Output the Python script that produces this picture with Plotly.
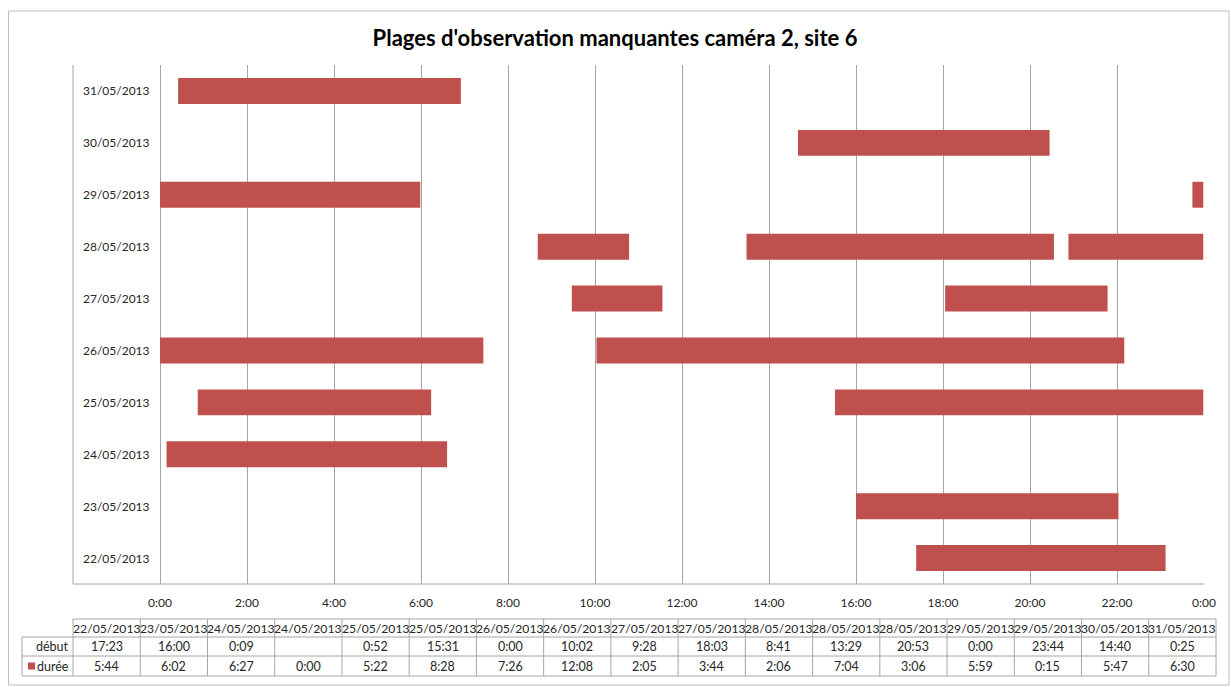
import plotly.graph_objects as go

# Données : une colonne du tableau = une plage manquante
dates = ["22/05/2013", "23/05/2013", "24/05/2013", "24/05/2013", "25/05/2013",
         "25/05/2013", "26/05/2013", "26/05/2013", "27/05/2013", "27/05/2013",
         "28/05/2013", "28/05/2013", "28/05/2013", "29/05/2013", "29/05/2013",
         "30/05/2013", "31/05/2013"]
debut = ["17:23", "16:00", "0:09", "", "0:52", "15:31", "0:00", "10:02", "9:28",
         "18:03", "8:41", "13:29", "20:53", "0:00", "23:44", "14:40", "0:25"]
duree = ["5:44", "6:02", "6:27", "0:00", "5:22", "8:28", "7:26", "12:08", "2:05",
         "3:44", "2:06", "7:04", "3:06", "5:59", "0:15", "5:47", "6:30"]
jours = ["22/05/2013", "23/05/2013", "24/05/2013", "25/05/2013", "26/05/2013",
         "27/05/2013", "28/05/2013", "29/05/2013", "30/05/2013", "31/05/2013"]
heures_ticks = list(range(-2, 25, 2))
heures_labels = [""] + [f"{h % 24}:00" for h in range(0, 25, 2)]

W, H = 1231, 687
ROUGE = "#C0504D"
GRIS = "#A6A6A6"
TEXTE = "#262626"
POLICE = "Lato"


def en_heures(s):
    if not s:
        return None
    h, m = s.split(":")
    return int(h) + int(m) / 60


def px(x):
    return x / W


def py(y):
    return 1 - y / H


# Barres (on ignore la plage vide)
ys, bases, longueurs = [], [], []
for d, deb, dur in zip(dates, debut, duree):
    b = en_heures(deb)
    if b is None:
        continue
    ys.append(d)
    bases.append(b)
    longueurs.append(en_heures(dur))

fig = go.Figure(go.Bar(
    y=ys, x=longueurs, base=bases, orientation="h",
    marker=dict(color=ROUGE, line=dict(width=0)),
    width=0.5, showlegend=False, hoverinfo="skip",
))

x_gauche, x_droite = 73, 1204
y_haut, y_bas = 65, 584

fig.update_layout(
    width=W, height=H,
    margin=dict(l=0, r=0, t=0, b=0, pad=0, autoexpand=False),
    showlegend=False,
    paper_bgcolor="white", plot_bgcolor="white",
    font=dict(family=POLICE, color=TEXTE, size=12),
    title=dict(text="<b>Plages d'observation manquantes caméra 2, site 6</b>",
               x=px(615), xanchor="center", y=py(38), yanchor="middle",
               font=dict(size=22, color="#000000", family=POLICE)),
    xaxis=dict(domain=[px(x_gauche), px(x_droite)], range=[-2, 24],
               tickvals=heures_ticks, ticktext=heures_labels,
               showgrid=True, gridcolor=GRIS, gridwidth=1,
               zeroline=False, showline=False, ticks="", automargin=False,
               ticklabelstandoff=10, tickfont=dict(size=12, color=TEXTE)),
    yaxis=dict(domain=[py(y_bas), py(y_haut)], range=[-0.5, 9.5],
               type="category", categoryorder="array", categoryarray=jours,
               showticklabels=False, showgrid=False, zeroline=False,
               automargin=False),
)

shapes = []
ann = []

# Cadre extérieur
shapes.append(dict(type="rect", xref="paper", yref="paper",
                   x0=px(8.5), x1=px(1229), y0=py(685), y1=py(11),
                   line=dict(color="#BFBFBF", width=1)))
# Bords de la zone de tracé
for x0, y0, x1, y1 in [(x_gauche, y_haut, x_gauche, y_bas),
                       (x_gauche, y_bas, x_droite, y_bas)]:
    shapes.append(dict(type="line", xref="paper", yref="paper",
                       x0=px(x0), x1=px(x1), y0=py(y0), y1=py(y1),
                       line=dict(color=GRIS, width=1)))

# Étiquettes des jours dans la zone de tracé
for j in jours:
    ann.append(dict(x=-1, y=j, xref="x", yref="y", text=j, showarrow=False,
                    font=dict(size=12, color=TEXTE)))

# Tableau de données
n = len(dates)
t_gauche, t_droite = 73, 1216
col = (t_droite - t_gauche) / n
lignes = [619, 637, 656, 676]
lab_gauche = 22
TCOL = "#A6A6A6"


def ligne(x0, y0, x1, y1):
    shapes.append(dict(type="line", xref="paper", yref="paper",
                       x0=px(x0), x1=px(x1), y0=py(y0), y1=py(y1),
                       line=dict(color=TCOL, width=1)))


ligne(t_gauche, lignes[0], t_droite, lignes[0])
for yl in lignes[1:]:
    ligne(lab_gauche, yl, t_droite, yl)
ligne(lab_gauche, lignes[1], lab_gauche, lignes[3])
for i in range(n + 1):
    xc = t_gauche + i * col
    ligne(xc, lignes[0], xc, lignes[3])

for i in range(n):
    xc = t_gauche + (i + 0.5) * col
    for k, txt in enumerate([dates[i], debut[i], duree[i]]):
        yc = (lignes[k] + lignes[k + 1]) / 2
        taille = 12.2 if k == 0 else 12.5
        ann.append(dict(x=px(xc), y=py(yc), xref="paper", yref="paper",
                        text=txt, showarrow=False, xanchor="center",
                        yanchor="middle", font=dict(size=taille, color=TEXTE)))

for k, txt in [(1, "début"), (2, "durée")]:
    yc = (lignes[k] + lignes[k + 1]) / 2
    ann.append(dict(x=px(t_gauche - 2), y=py(yc), xref="paper", yref="paper",
                    text=txt, showarrow=False, xanchor="right",
                    yanchor="middle", font=dict(size=12.5, color=TEXTE)))

# Clé de légende (carré rouge) devant « durée »
yc = (lignes[2] + lignes[3]) / 2
shapes.append(dict(type="rect", xref="paper", yref="paper",
                   x0=px(28), x1=px(35), y0=py(yc + 3.5), y1=py(yc - 3.5),
                   fillcolor=ROUGE, line=dict(width=0)))

fig.update_layout(shapes=shapes, annotations=ann)

# la page par défaut ajoute une marge : on la supprime pour garder 1231x687
fig.write_html("out.html", config={"displayModeBar": False},
               post_script="document.body.style.margin='0';"
                           "document.body.style.overflow='hidden';")
